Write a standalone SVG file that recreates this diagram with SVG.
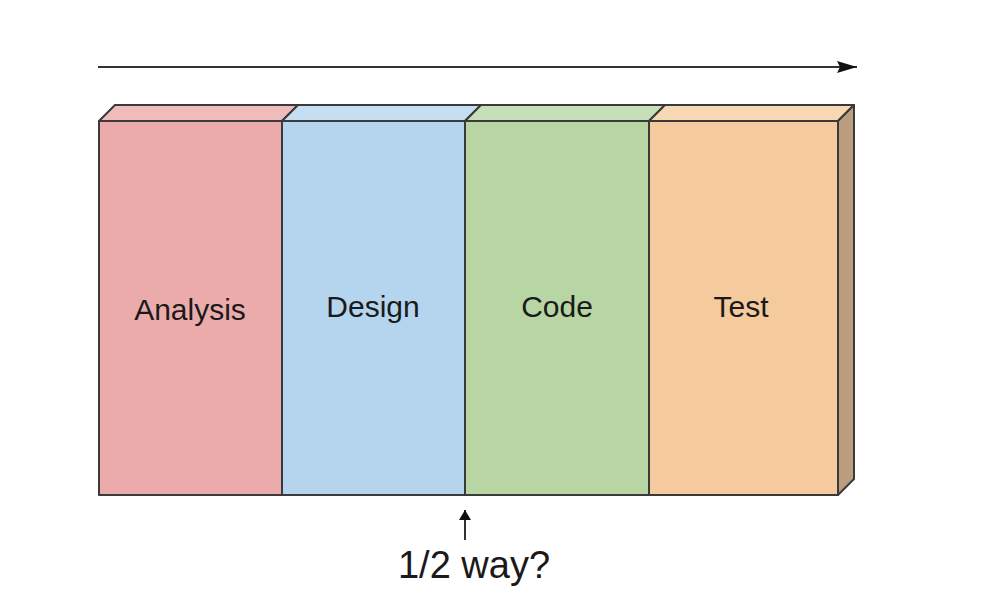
<svg xmlns="http://www.w3.org/2000/svg" width="988" height="602" viewBox="0 0 988 602">
<style>
.f{stroke:#3a3a3a;stroke-width:2;stroke-linejoin:round}
.t{font-family:"Liberation Sans",Arial,sans-serif;font-size:30px;fill:#1a1a1a;text-anchor:middle}
</style>
<defs>
<marker id="ah" viewBox="0 0 10 12" refX="10" refY="6" markerWidth="11" markerHeight="12" markerUnits="userSpaceOnUse" orient="auto">
<path d="M0,0 L10,6 L0,12 z" fill="#111"/>
</marker>
<marker id="big" viewBox="0 0 20 12" refX="20" refY="6" markerWidth="20" markerHeight="12" markerUnits="userSpaceOnUse" orient="auto">
<path d="M0,0 L20,6 L0,12 L3,6 z" fill="#111"/>
</marker>
</defs>
<rect width="988" height="602" fill="#fff"/>
<g id="connectors">
<line x1="98" y1="67" x2="857" y2="67" stroke="#333" stroke-width="2" marker-end="url(#big)"/>
<line x1="465" y1="540" x2="465" y2="510" stroke="#333" stroke-width="2" marker-end="url(#ah)"/>
</g>
<g id="analysis">
<polygon class="f" points="99,121 115,105 298,105 282,121" fill="#F0BBBB"/>
<rect class="f" x="99" y="121" width="183" height="374" fill="#ECABAB"/>
<text class="t" x="190" y="320">Analysis</text>
</g>
<g id="design">
<polygon class="f" points="282,121 298,105 481,105 465,121" fill="#C5DEF2"/>
<rect class="f" x="282" y="121" width="183" height="374" fill="#B5D5EE"/>
<text class="t" x="373" y="317">Design</text>
</g>
<g id="code">
<polygon class="f" points="465,121 481,105 665,105 649,121" fill="#C6DFB6"/>
<rect class="f" x="465" y="121" width="184" height="374" fill="#B8D6A4"/>
<text class="t" x="557" y="317">Code</text>
</g>
<g id="test">
<polygon class="f" points="649,121 665,105 854,105 838,121" fill="#F7D8B2"/>
<polygon class="f" points="838,121 854,105 854,479 838,495" fill="#BA9E7E"/>
<rect class="f" x="649" y="121" width="189" height="374" fill="#F5CB9D"/>
<text class="t" x="741" y="317">Test</text>
</g>
<g id="halfway">
<text x="474" y="578" font-family="Liberation Sans,Arial,sans-serif" font-size="38" fill="#1a1a1a" text-anchor="middle">1/2 way?</text>
</g>
</svg>
